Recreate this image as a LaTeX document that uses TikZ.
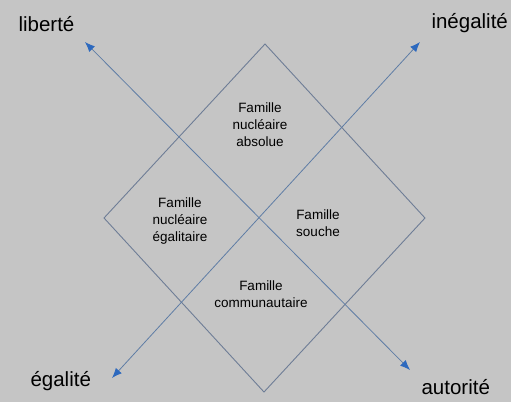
\documentclass[tikz,border=0pt]{standalone}
\usepackage{fontspec}
\setmainfont{Liberation Sans}
\usetikzlibrary{arrows.meta}
\definecolor{fond}{RGB}{197,197,197}
\definecolor{axe}{RGB}{95,125,165}
\definecolor{pointe}{RGB}{45,105,190}
\definecolor{bord}{RGB}{110,125,150}
\begin{document}
\begin{tikzpicture}[x=1pt,y=-1pt,
  famille/.style = {align=center, font=\fontsize{13.5}{17}\selectfont},
  pole/.style = {anchor=base west, font=\fontsize{20.5}{24}\selectfont},
  axe/.style = {draw=axe, line width=0.8pt,
    {Latex[length=10pt,width=8pt,color=pointe]}-{Latex[length=10pt,width=8pt,color=pointe]}}]
\path[use as bounding box, fill=fond] (0,0) rectangle (511,402);
% losange
\coordinate (haut) at (265,44);
\coordinate (droite) at (425,218);
\coordinate (bas) at (264,392);
\coordinate (gauche) at (104,218);
\draw[bord, line width=0.9pt] (haut) -- (droite) -- (bas) -- (gauche) -- cycle;
% axes
\coordinate (lib) at (85,42);
\coordinate (aut) at (410,370);
\coordinate (ega) at (112,378);
\coordinate (ine) at (420,42);
\draw[axe] (lib) -- (aut);
\draw[axe] (ega) -- (ine);
% poles
\node[pole] (liberte) at (15,31) {liberté};
\node[pole] (inegalite) at (428,28) {inégalité};
\node[pole] (egalite) at (27,386) {égalité};
\node[pole] (autorite) at (418,394) {autorité};
% familles
\node[famille] (absolue) at (260,125) {Famille\\nucléaire\\absolue};
\node[famille] (egalitaire) at (180,221) {Famille\\nucléaire\\égalitaire};
\node[famille] (souche) at (318,223) {Famille\\souche};
\node[famille] (communautaire) at (261,294) {Famille\\communautaire};
\end{tikzpicture}
\end{document}
